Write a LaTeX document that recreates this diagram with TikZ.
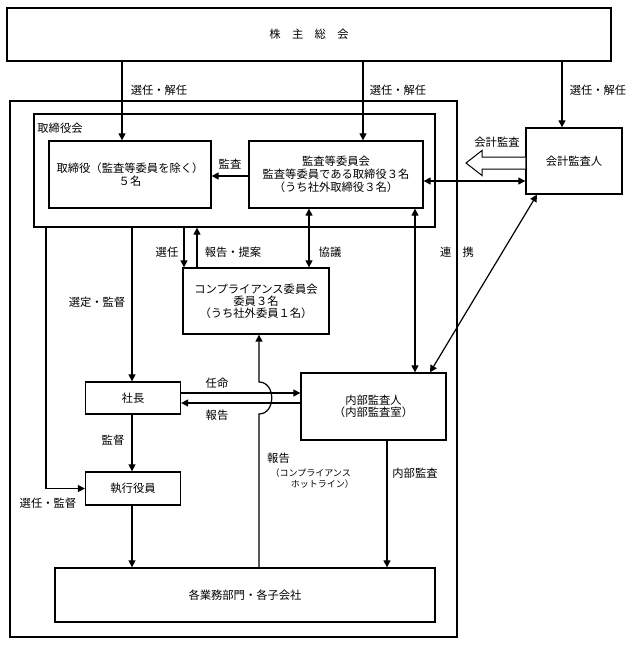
\documentclass[tikz,border=0pt]{standalone}
\usepackage{fontspec}
\setmainfont{Noto Sans CJK JP}
\usetikzlibrary{arrows.meta}
\newcommand\mainfs{\fontsize{11.3}{13}\selectfont}
\newcommand\smallfs{\fontsize{9}{10}\selectfont}
\begin{document}
\begin{tikzpicture}[x=1pt,y=-1pt,
  box/.style={draw,line width=1.3pt,inner sep=0pt,align=center,font=\mainfs},
  lbl/.style={inner sep=0pt,font=\mainfs},
  slbl/.style={inner sep=0pt,font=\smallfs},
  ln/.style={line width=1.2pt},
  arr/.style={line width=1.2pt,-{Triangle[length=7pt,width=7pt]}},
  darr/.style={line width=1.2pt,{Triangle[length=7pt,width=7pt]}-{Triangle[length=7pt,width=7pt]}}]
\useasboundingbox (0,0) rectangle (633,645);

% boxes
\node[box,minimum width=604pt,minimum height=53pt] (gm) at (309,34.5) {株　主　総　会};
\node[box,minimum width=447pt,minimum height=536pt] (outer) at (233.5,369) {};
\node[box,minimum width=401pt,minimum height=113pt] (board) at (234.5,170.5) {};
\node[lbl] (boardlbl) at (60,128) {取締役会};
\node[box,minimum width=162pt,minimum height=67pt] (dir) at (130,174.5) {取締役（監査等委員を除く）\\５名};
\node[box,minimum width=174pt,minimum height=67pt] (ac) at (336,174.5) {監査等委員会\\監査等委員である取締役３名\\（うち社外取締役３名）};
\node[box,minimum width=96pt,minimum height=66pt] (ext) at (574,161) {会計監査人};
\node[box,minimum width=146pt,minimum height=66pt,font={\fontsize{11.3}{12}\selectfont}] (comp) at (256,301) {コンプライアンス委員会\\委員３名\\（うち社外委員１名）};
\node[box,minimum width=95pt,minimum height=32pt] (pres) at (133,398) {社長};
\node[box,minimum width=145pt,minimum height=67pt,font={\fontsize{11.3}{12}\selectfont}] (ia) at (373.5,406.5) {内部監査人\\（内部監査室）};
\node[box,minimum width=95pt,minimum height=33pt] (exe) at (133,488.5) {執行役員};
\node[box,minimum width=380pt,minimum height=54pt] (biz) at (245,595) {各業務部門・各子会社};

% connectors from general meeting
\draw[arr] (122,0 |- gm.south) -- (122,0 |- dir.north);
\draw[arr] (363,0 |- gm.south) -- (363,0 |- ac.north);
\draw[arr] (562,0 |- gm.south) -- (562,0 |- ext.north);
\node[lbl] (l1) at (159,90) {選任・解任};
\node[lbl] (l2) at (398,90) {選任・解任};
\node[lbl] (l3) at (598,90) {選任・解任};

% audit
\draw[arr] (ac.west |- 0,176) -- (dir.east |- 0,176);
\node[lbl] (l4) at (230,164) {監査};
\draw[darr] (ac.east |- 0,181) -- (ext.west |- 0,181);
\draw[line width=1pt,fill=white] (ext.west |- 0,157) -- (482,157) -- (482,150.5) -- (466,163) -- (482,175.5) -- (482,169) -- (ext.west |- 0,169);
\node[lbl] (l5) at (497,142) {会計監査};
\draw[darr] (537,0 |- ext.south) -- (430,0 |- ia.north);
\draw[darr] (415,0 |- ac.south) -- (415,0 |- ia.north);
\node[lbl] (l6) at (457,252) {連　携};

% compliance
\draw[darr] (309,0 |- ac.south) -- (309,0 |- comp.north);
\draw[arr] (184,0 |- board.south) -- (184,0 |- comp.north);
\draw[arr] (197,0 |- comp.north) -- (197,0 |- board.south);
\node[lbl] (l7) at (167,252) {選任};
\node[lbl] (l8) at (233,252) {報告・提案};
\node[lbl] (l9) at (330,252) {協議};

% board to executives
\draw[arr] (46,0 |- board.south) |- (exe.west);
\draw[arr] (132,0 |- board.south) -- (132,0 |- pres.north);
\draw[arr] (132,0 |- pres.south) -- (132,0 |- exe.north);
\draw[arr] (132,0 |- exe.south) -- (132,0 |- biz.north);
\node[lbl] (l10) at (97,302) {選定・監督};
\node[lbl] (l11) at (113,440) {監督};
\node[lbl] (l12) at (48,503) {選任・監督};

% president and internal audit
\draw[arr] (pres.east |- 0,393) -- (ia.west |- 0,393);
\draw[arr] (ia.west |- 0,403) -- (pres.east |- 0,403);
\node[lbl] (l13) at (217,383) {任命};
\node[lbl] (l14) at (217,415) {報告};

% hotline with hop
\draw[arr] (259,0 |- biz.north) -- (259,414) .. controls (276,414) and (276,382) .. (259,382) -- (259,0 |- comp.south);
\node[lbl,anchor=west] (l15) at (267,458) {報告};
\node[slbl,anchor=east] (l16) at (351,473) {（コンプライアンス};
\node[slbl,anchor=east] (l17) at (354,484) {ホットライン）};

% internal audit to business
\draw[arr] (387,0 |- ia.south) -- (387,0 |- biz.north);
\node[lbl] (l18) at (415,473) {内部監査};
\end{tikzpicture}
\end{document}
